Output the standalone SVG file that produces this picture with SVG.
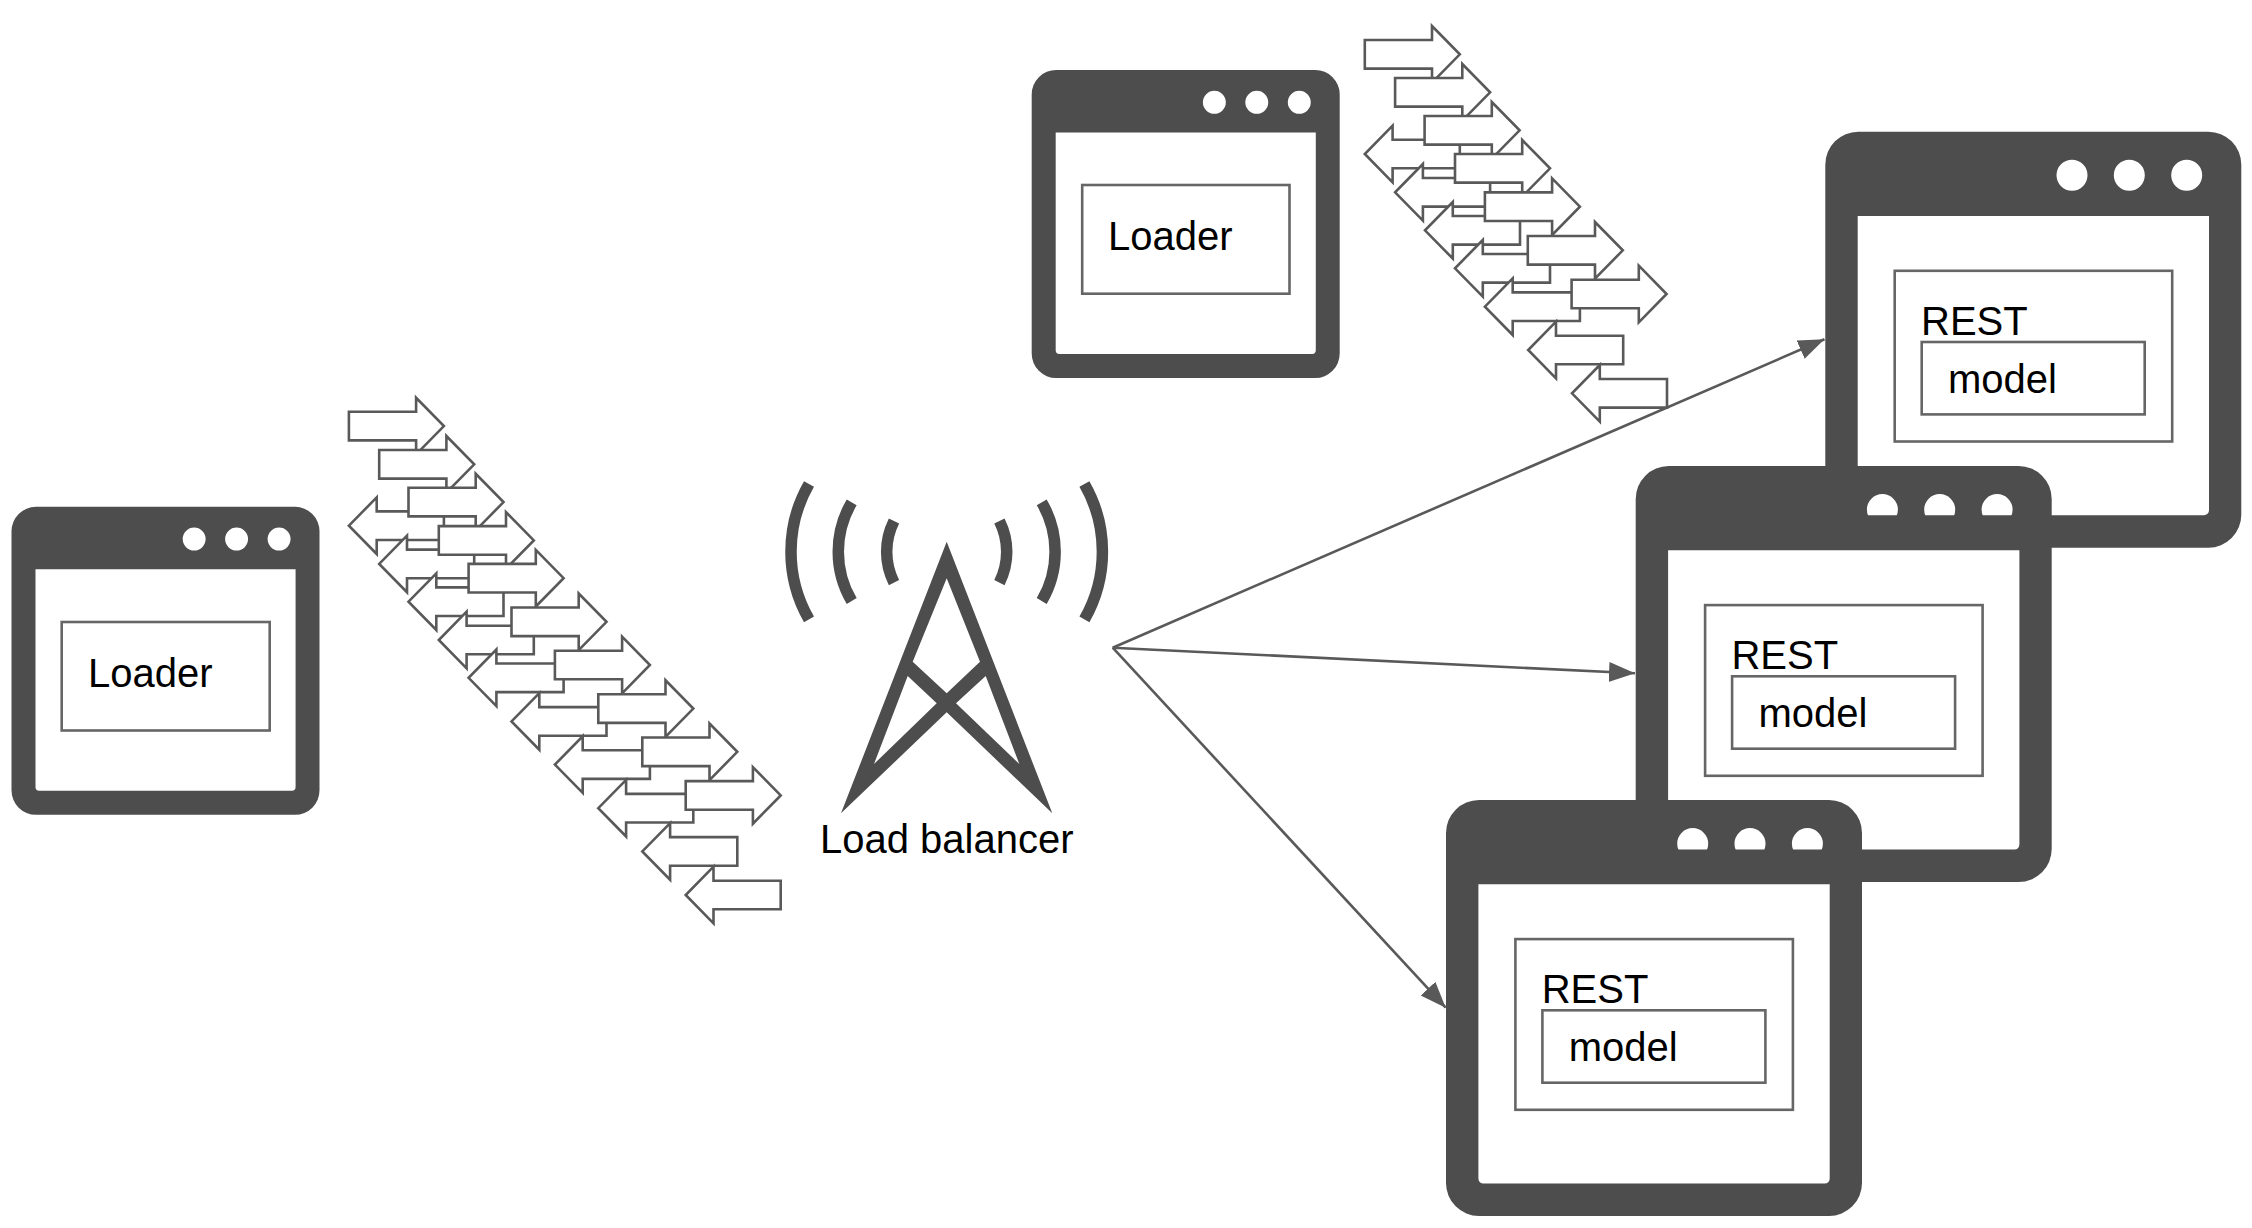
<svg xmlns="http://www.w3.org/2000/svg" width="2252" height="1228" viewBox="0 0 2252 1228">
<style>
text{font-family:"Liberation Sans",Arial,sans-serif;font-size:40px;fill:#000}
.win{fill:#4d4d4d;fill-rule:evenodd}
.box{fill:#fff;stroke:#666;stroke-width:2.6}
.ba{fill:#fff;stroke:#595959;stroke-width:2.6}
.conn{fill:none;stroke:#595959;stroke-width:2.6}
.arc{fill:none;stroke:#4d4d4d;stroke-width:11.5}
</style>
<defs>
<path id="w" class="win" d="M33 0H383A33 33 0 0 1 416 33V383A33 33 0 0 1 383 416H33A33 33 0 0 1 0 383V33A33 33 0 0 1 33 0ZM32.4 84.3V378.6A5 5 0 0 0 37.4 383.6H378.7A5 5 0 0 0 383.7 378.6V84.3ZM231.2 43.6a15.5 15.5 0 1 0 31 0a15.5 15.5 0 1 0 -31 0ZM288.5 43.6a15.5 15.5 0 1 0 31 0a15.5 15.5 0 1 0 -31 0ZM345.9 43.6a15.5 15.5 0 1 0 31 0a15.5 15.5 0 1 0 -31 0Z"/>
<path id="r" class="ba" d="M0 -14.3H67.2V-28.3L95 0L67.2 28.3V14.3H0Z"/>
<path id="l" class="ba" d="M95 -14.3H27.8V-28.3L0 0L27.8 28.3V14.3H95Z"/>
<marker id="ah" markerUnits="userSpaceOnUse" markerWidth="28" markerHeight="22" refX="26" refY="10" orient="auto"><path d="M0 0L26 10L0 20Z" fill="#595959"/></marker>
</defs>
<g id="connectors">
<path class="conn" marker-end="url(#ah)" d="M1112.7 647.7L1824.5 339.3"/>
<path class="conn" marker-end="url(#ah)" d="M1112.7 647.7L1635 673.3"/>
<path class="conn" marker-end="url(#ah)" d="M1112.7 647.7L1445.7 1007.7"/>
</g>
<g id="stream-left">
<use href="#l" x="348.9" y="525.7"/><use href="#l" x="379.2" y="563.9"/><use href="#l" x="408.5" y="601.7"/><use href="#l" x="438.8" y="640"/><use href="#l" x="468.6" y="677.8"/><use href="#l" x="511.5" y="721.4"/><use href="#l" x="554.9" y="764.6"/><use href="#l" x="598.3" y="808.2"/><use href="#l" x="642.3" y="851.4"/><use href="#l" x="685.7" y="895"/>
<use href="#r" x="348.9" y="426.1"/><use href="#r" x="379.2" y="464.3"/><use href="#r" x="408.5" y="502.1"/><use href="#r" x="438.8" y="540.4"/><use href="#r" x="468.6" y="578.2"/><use href="#r" x="511.5" y="621.8"/><use href="#r" x="554.9" y="665"/><use href="#r" x="598.3" y="708.6"/><use href="#r" x="642.3" y="751.8"/><use href="#r" x="685.7" y="795.4"/>
</g>
<g id="stream-top">
<use href="#l" x="1364.8" y="154"/><use href="#l" x="1395.1" y="192.3"/><use href="#l" x="1425" y="230.3"/><use href="#l" x="1455" y="268.3"/><use href="#l" x="1484.9" y="306.7"/><use href="#l" x="1528.2" y="350"/><use href="#l" x="1572" y="393.3"/>
<use href="#r" x="1364.8" y="54.3"/><use href="#r" x="1395.1" y="92.3"/><use href="#r" x="1424.6" y="130.3"/><use href="#r" x="1455" y="168.3"/><use href="#r" x="1484.9" y="206.7"/><use href="#r" x="1527.8" y="250.3"/><use href="#r" x="1571.6" y="294"/>
</g>
<g id="loader-left">
<use href="#w" transform="translate(11.5 506.8) scale(.7404)"/>
<rect class="box" x="61.7" y="622" width="208" height="108.5"/>
<text x="88" y="686.5">Loader</text>
</g>
<g id="loader-top">
<use href="#w" transform="translate(1031.7 70) scale(.7404)"/>
<rect class="box" x="1082.2" y="185" width="207.3" height="108.7"/>
<text x="1108" y="249.5">Loader</text>
</g>
<g id="load-balancer">
<path fill="#4d4d4d" fill-rule="evenodd" d="M946.7 541.7L1052.3 813.3L946.7 712.3L841 813.3ZM946.7 578.3L912.7 661.7L946.7 693.3L980 661.7ZM907.7 676L874 764L936.7 703.3ZM985.7 676L1019.3 764L956 703.3Z"/>
<path class="arc" d="M809 484A136 136 0 0 0 809 619.3M851.7 502.3A97.4 97.4 0 0 0 851.7 601M894 521A68.6 68.6 0 0 0 894 582.7M1084.4 484A136 136 0 0 1 1084.4 619.3M1041.7 502.3A97.4 97.4 0 0 1 1041.7 601M999.4 521A68.6 68.6 0 0 1 999.4 582.7"/>
<text x="820" y="853">Load balancer</text>
</g>
<g id="rest-top">
<use href="#w" x="1825.3" y="131.7"/>
<rect class="box" x="1894.7" y="270.8" width="277.5" height="170.7"/>
<rect class="box" x="1921.7" y="342" width="223" height="72.4"/>
<text x="1921" y="335">REST</text>
<text x="1948" y="393">model</text>
</g>
<g id="rest-middle">
<use href="#w" x="1635.7" y="466"/>
<rect class="box" x="1705.1" y="605.1" width="277.5" height="170.7"/>
<rect class="box" x="1732.1" y="676.3" width="223" height="72.4"/>
<text x="1731.4" y="669.3">REST</text>
<text x="1758.4" y="727.3">model</text>
</g>
<g id="rest-bottom">
<use href="#w" x="1446" y="800"/>
<rect class="box" x="1515.4" y="939.1" width="277.5" height="170.7"/>
<rect class="box" x="1542.4" y="1010.3" width="223" height="72.4"/>
<text x="1541.7" y="1003.3">REST</text>
<text x="1568.7" y="1061.3">model</text>
</g>
</svg>
